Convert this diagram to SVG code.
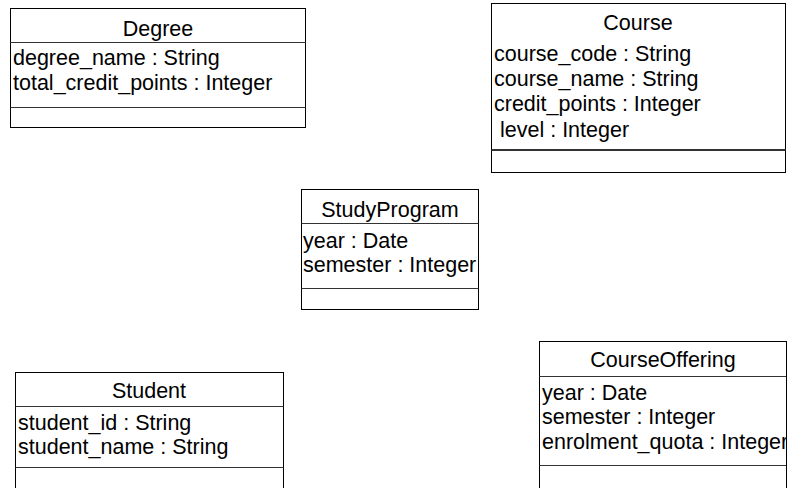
<svg xmlns="http://www.w3.org/2000/svg" width="791" height="488" viewBox="0 0 791 488">
<style>
.box{fill:#fff;stroke:#000;stroke-width:1}
.sep{stroke:#333;stroke-width:1}
.sep2{stroke:#333;stroke-width:2}
text{font-family:"Liberation Sans",Arial,sans-serif;font-size:21.5px;fill:#000}
.t{text-anchor:middle}
</style>
<defs>
<clipPath id="coClip"><rect x="539" y="341" width="248" height="147"/></clipPath>
</defs>
<g id="Degree">
<rect class="box" x="10.5" y="8.5" width="295" height="119"/>
<line class="sep" x1="10.5" y1="42.5" x2="305.5" y2="42.5"/>
<line class="sep" x1="10.5" y1="107.5" x2="305.5" y2="107.5"/>
<text class="t" x="158" y="36">Degree</text>
<text x="13" y="65">degree_name : String</text>
<text x="13" y="90">total_credit_points : Integer</text>
</g>
<g id="Course">
<rect class="box" x="491.5" y="3.5" width="294" height="169"/>
<line class="sep2" x1="491.5" y1="150" x2="785.5" y2="150"/>
<text class="t" x="638" y="30">Course</text>
<text x="494" y="61">course_code : String</text>
<text x="494" y="86">course_name : String</text>
<text x="494" y="111">credit_points : Integer</text>
<text x="500" y="137">level : Integer</text>
</g>
<g id="StudyProgram">
<rect class="box" x="301.5" y="189.5" width="177" height="120"/>
<line class="sep" x1="301.5" y1="223.5" x2="478.5" y2="223.5"/>
<line class="sep" x1="301.5" y1="288.5" x2="478.5" y2="288.5"/>
<text class="t" x="390" y="217">StudyProgram</text>
<text x="303" y="248">year : Date</text>
<text x="303" y="272">semester : Integer</text>
</g>
<g id="Student">
<rect class="box" x="15.5" y="372.5" width="268" height="130"/>
<line class="sep" x1="15.5" y1="406.5" x2="283.5" y2="406.5"/>
<line class="sep" x1="15.5" y1="467.5" x2="283.5" y2="467.5"/>
<text class="t" x="149" y="398">Student</text>
<text x="18" y="430">student_id : String</text>
<text x="18" y="454">student_name : String</text>
</g>
<g id="CourseOffering">
<rect class="box" x="539.5" y="341.5" width="247" height="160"/>
<line class="sep" x1="539.5" y1="376.5" x2="786.5" y2="376.5"/>
<line class="sep" x1="539.5" y1="465.5" x2="786.5" y2="465.5"/>
<text class="t" x="663" y="367">CourseOffering</text>
<g clip-path="url(#coClip)">
<text x="542" y="400">year : Date</text>
<text x="542" y="424">semester : Integer</text>
<text x="542" y="449">enrolment_quota : Integer</text>
</g>
<line stroke="#000" stroke-width="1" x1="786.5" y1="341.5" x2="786.5" y2="488"/>
</g>
<g id="connectors"/>
</svg>
